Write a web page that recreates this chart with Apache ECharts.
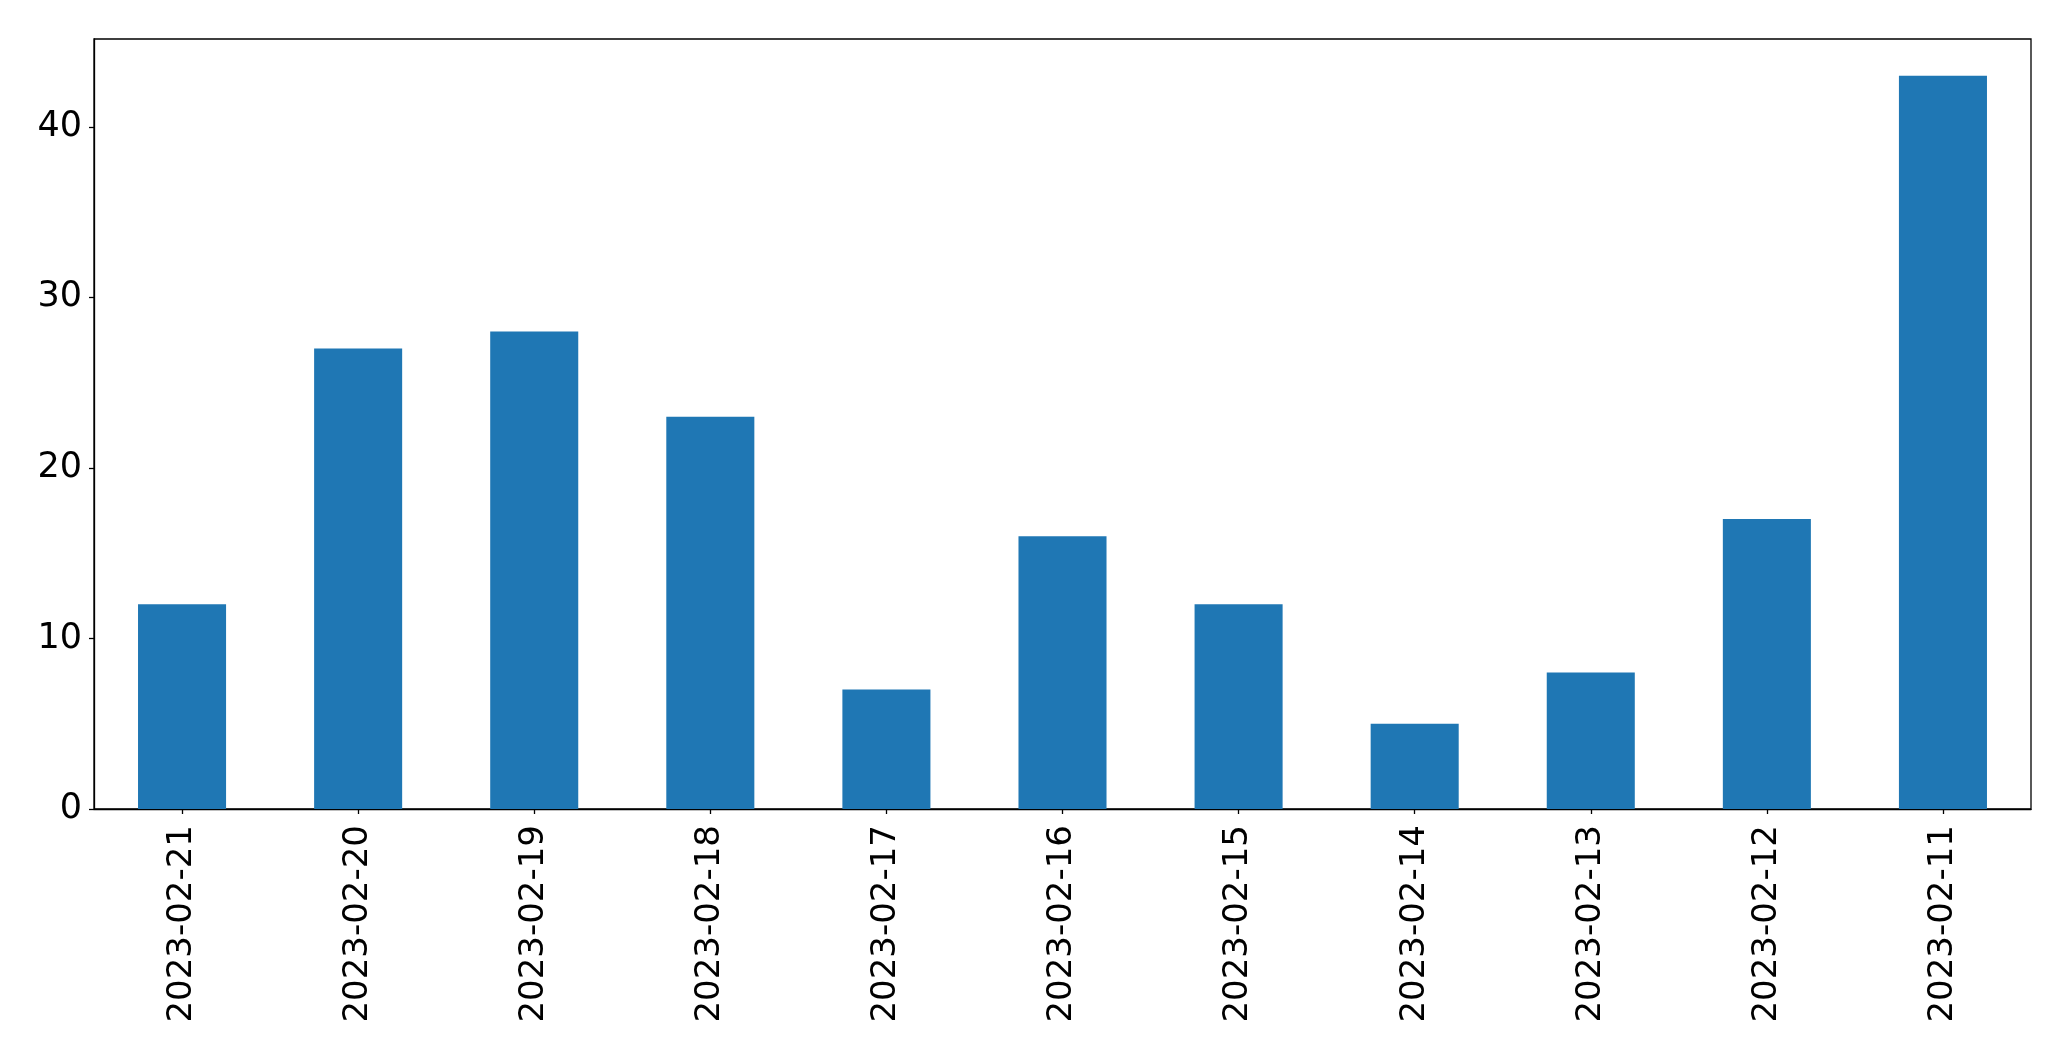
<!DOCTYPE html>
<html>
<head>
<meta charset="utf-8">
<script src="https://cdn.jsdelivr.net/npm/echarts@6/dist/echarts.min.js"></script>
<style>html,body{margin:0;padding:0;background:#fff}#c{width:2071px;height:1061px}</style>
</head>
<body>
<div id="c"></div>
<script>
const categories = ["2023-02-21","2023-02-20","2023-02-19","2023-02-18","2023-02-17","2023-02-16","2023-02-15","2023-02-14","2023-02-13","2023-02-12","2023-02-11"];
const values = [12, 27, 28, 23, 7, 16, 12, 5, 8, 17, 43];
const yTicks = [0, 10, 20, 30, 40];

const chart = echarts.init(document.getElementById('c'), null, {renderer: 'canvas'});
const font = 'DejaVu Sans';
chart.setOption({
  animation: false,
  backgroundColor: '#ffffff',
  grid: {left: 94, right: 40, top: 39, bottom: 252, show: true, borderColor: '#000', borderWidth: 1.3, backgroundColor: 'transparent', containLabel: false},
  xAxis: {
    type: 'category',
    data: categories,
    axisLine: {show: true, lineStyle: {color: '#000', width: 1.3}},
    axisTick: {show: true, alignWithLabel: true, length: 5, lineStyle: {color: '#000', width: 1.3}},
    axisLabel: {rotate: 90, margin: 16, color: '#000', fontSize: 34, fontFamily: font, interval: 0},
    splitLine: {show: false}
  },
  yAxis: {
    type: 'value',
    min: 0,
    max: 45.15,
    interval: 10,
    axisLine: {show: true, lineStyle: {color: '#000', width: 1.3}},
    axisTick: {show: true, length: 5, customValues: yTicks, lineStyle: {color: '#000', width: 1.3}},
    axisLabel: {margin: 12, color: '#000', fontSize: 35, fontFamily: font, customValues: yTicks},
    splitLine: {show: false}
  },
  series: [{
    type: 'bar',
    data: values,
    barWidth: '50%',
    itemStyle: {color: '#1f77b4'}
  }]
});
</script>
</body>
</html>
